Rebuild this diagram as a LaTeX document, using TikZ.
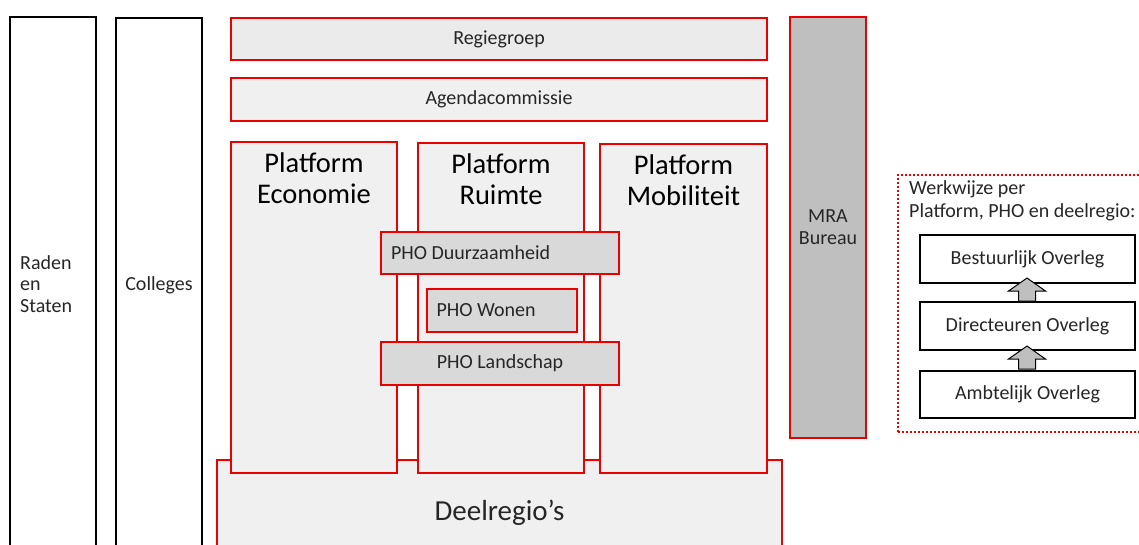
\documentclass[tikz,border=0pt]{standalone}
\usepackage{fontspec}
\setmainfont{Carlito}
\usetikzlibrary{positioning,shapes.arrows}
\definecolor{rood}{RGB}{235,0,0}
\definecolor{tekst}{RGB}{38,38,38}
\definecolor{licht}{RGB}{240,240,240}
\definecolor{regie}{RGB}{235,235,235}
\definecolor{pho}{RGB}{217,217,217}
\definecolor{bureau}{RGB}{191,191,191}
\tikzset{
	zwart/.style={draw=black,line width=2.2pt,fill=white,inner sep=0pt,text=tekst,font=\fontsize{20}{21.5}\selectfont},
	rbox/.style={draw=rood,line width=2pt,fill=licht,inner sep=0pt,text=tekst,font=\fontsize{20}{22}\selectfont},
	phobox/.style={rbox,fill=pho},
	titel/.style={inner sep=0pt,align=center,text=black,font=\fontsize{28.5}{30.5}\selectfont},
	omhoog/.style={single arrow,draw=black,line width=1pt,fill=bureau,shape border rotate=90,
		minimum height=19pt,minimum width=36pt,inner sep=8pt,single arrow head extend=10pt,single arrow tip angle=110}
}

\begin{document}
\begin{tikzpicture}[x=1pt,y=-1pt]
	\useasboundingbox (0,0) rectangle (1139,545);
	% links
	\node[zwart,minimum width=86pt,minimum height=535pt] (raden) at (53,284.5) {};
	\node[inner sep=0pt,anchor=west,align=flush left,text=tekst,font=\fontsize{20}{21.5}\selectfont] (raden-t) at (20,284) {Raden\\en\\Staten};
	\node[zwart,minimum width=86pt,minimum height=534pt] (colleges) at (159,285) {Colleges};
	% boven
	\node[rbox,fill=regie,minimum width=536pt,minimum height=42pt] (regiegroep) at (499,39) {Regiegroep};
	\node[rbox,minimum width=536pt,minimum height=43pt] (agenda) at (499,99.5) {Agendacommissie};
	% deelregio's en platforms
	\node[rbox,minimum width=565pt,minimum height=106pt,font=\fontsize{29}{31}\selectfont] (deel) at (499.5,513) {Deelregio’s};
	\node[rbox,minimum width=166pt,minimum height=331pt] (pe) at (314,307.5) {};
	\node[rbox,minimum width=166pt,minimum height=330pt] (pr) at (501,308) {};
	\node[rbox,minimum width=167pt,minimum height=329pt] (pm) at (683.5,308.5) {};
	\node[titel,below=12pt of pe.north] (pe-t) {Platform\\Economie};
	\node[titel,below=12pt of pr.north] (pr-t) {Platform\\Ruimte};
	\node[titel,below=12pt of pm.north] (pm-t) {Platform\\Mobiliteit};
	% PHO's
	\node[phobox,minimum width=238pt,minimum height=42pt,text width=218pt,align=flush left] (duurzaam) at (500,253) {PHO Duurzaamheid};
	\node[phobox,minimum width=150pt,minimum height=43pt,text width=131pt,align=flush left] (wonen) at (502,310.5) {PHO Wonen};
	\node[phobox,minimum width=238pt,minimum height=43pt] (landschap) at (500,363.5) {PHO Landschap};
	\node[rbox,fill=bureau,minimum width=76pt,minimum height=421pt,align=center] (mra) at (828,227.5) {MRA\\Bureau};
	% werkwijze
	\node[draw=rood,line width=2pt,dash pattern=on 2pt off 2pt,minimum width=252pt,minimum height=257pt] (werk) at (1024,303.5) {};
	\node[inner sep=0pt,anchor=north west,align=flush left,text=tekst,font=\fontsize{20}{23}\selectfont] (werk-t) at (909,180) {Werkwijze per\\Platform, PHO en deelregio:};
	\node[zwart,minimum width=215pt,minimum height=48pt] (bo) at (1027.5,259) {Bestuurlijk Overleg};
	\node[zwart,minimum width=215pt,minimum height=48pt] (do) at (1027.5,326) {Directeuren Overleg};
	\node[zwart,minimum width=215pt,minimum height=47pt] (ao) at (1027.5,394.5) {Ambtelijk Overleg};
	\node[omhoog] (pijl1) at (1027,292.5) {};
	\node[omhoog] (pijl2) at (1027,360.5) {};
\end{tikzpicture}
\end{document}
